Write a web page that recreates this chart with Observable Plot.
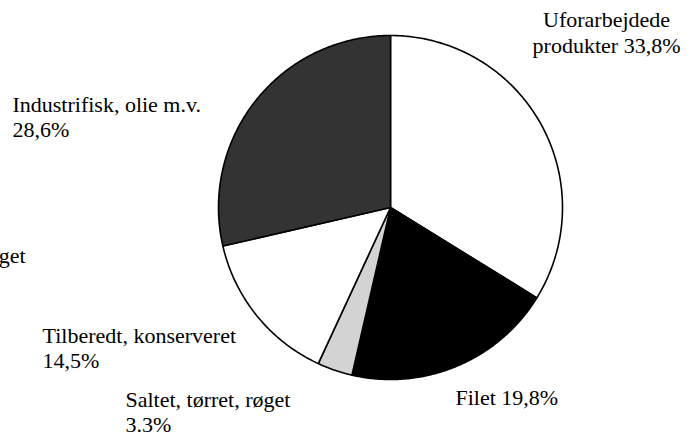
<!DOCTYPE html>
<html>
<head>
<meta charset="utf-8">
<script src="https://cdn.jsdelivr.net/npm/d3@7"></script>
<script src="https://cdn.jsdelivr.net/npm/@observablehq/plot@0.6"></script>
<style>
  html, body { margin: 0; padding: 0; background: #fff; }
  #chart svg { display: block; }
  #chart svg, #chart svg text { font-family: "Liberation Serif", "Times New Roman", Times, serif !important; }
</style>
</head>
<body>
<div id="chart"></div>
<script>
// Data (clockwise from 12 o'clock)
const categories = ["Uforarbejdede produkter", "Filet", "Saltet, tørret, røget", "Tilberedt, konserveret", "Industrifisk, olie m.v."];
const shares = [33.8, 19.8, 3.3, 14.5, 28.6];
const labels = ["Uforarbejdede\nprodukter 33,8%", "Filet 19,8%", "Saltet, tørret, røget\n3.3%", "Tilberedt, konserveret\n14,5%", "Industrifisk, olie m.v.\n28,6%"];
const fills = ["#ffffff", "#000000", "#d3d3d3", "#ffffff", "#333333"];

// Layout: label anchors in pie units (radius = 1), last-line baseline
const labelX = [1.256, 0.378, -1.541, -2.023, -2.198];
const labelY = [0.901, -1.151, -1.308, -0.936, 0.407];
const labelAnchor = ["middle", "start", "start", "start", "start"];

// Build slice outlines from the data
const arcs = d3.pie().sort(null).startAngle(0).endAngle(2 * Math.PI)(shares);
const slices = arcs.map((a, i) => {
  const pts = [{x: 0, y: 0}];
  const n = Math.max(2, Math.ceil((a.endAngle - a.startAngle) / 0.01));
  for (let k = 0; k <= n; k++) {
    const t = a.startAngle + (a.endAngle - a.startAngle) * k / n;
    pts.push({x: Math.sin(t), y: Math.cos(t)});
  }
  pts.push({x: 0, y: 0});
  return pts;
});

const labelData = labels.map((t, i) => ({text: t, x: labelX[i], y: labelY[i], anchor: labelAnchor[i]}));

const font = "Liberation Serif";

const plot = Plot.plot({
  width: 689,
  height: 434,
  marginLeft: 218,
  marginRight: 127,
  marginTop: 35,
  marginBottom: 55,
  x: {domain: [-1, 1], axis: null},
  y: {domain: [-1, 1], axis: null},
  style: {background: "#fff", overflow: "visible"},
  marks: [
    ...slices.map((pts, i) => Plot.line(pts, {
      x: "x", y: "y", fill: fills[i], stroke: "#000", strokeWidth: 1.6, strokeLinejoin: "round"
    })),
    ...["start", "middle"].map(anchor => Plot.text(labelData.filter(d => d.anchor === anchor), {
      x: "x", y: "y", text: "text", textAnchor: anchor, lineAnchor: "bottom",
      lineHeight: 1.17, fontSize: 22, fill: "#000", fontFamily: font
    })),
    Plot.text([categories[2]], {
      x: [-2.122], y: [-0.32], text: d => d, textAnchor: "end", lineAnchor: "bottom",
      fontSize: 22, fill: "#000", fontFamily: font
    })
  ]
});
document.getElementById("chart").appendChild(plot);
</script>
</body>
</html>
